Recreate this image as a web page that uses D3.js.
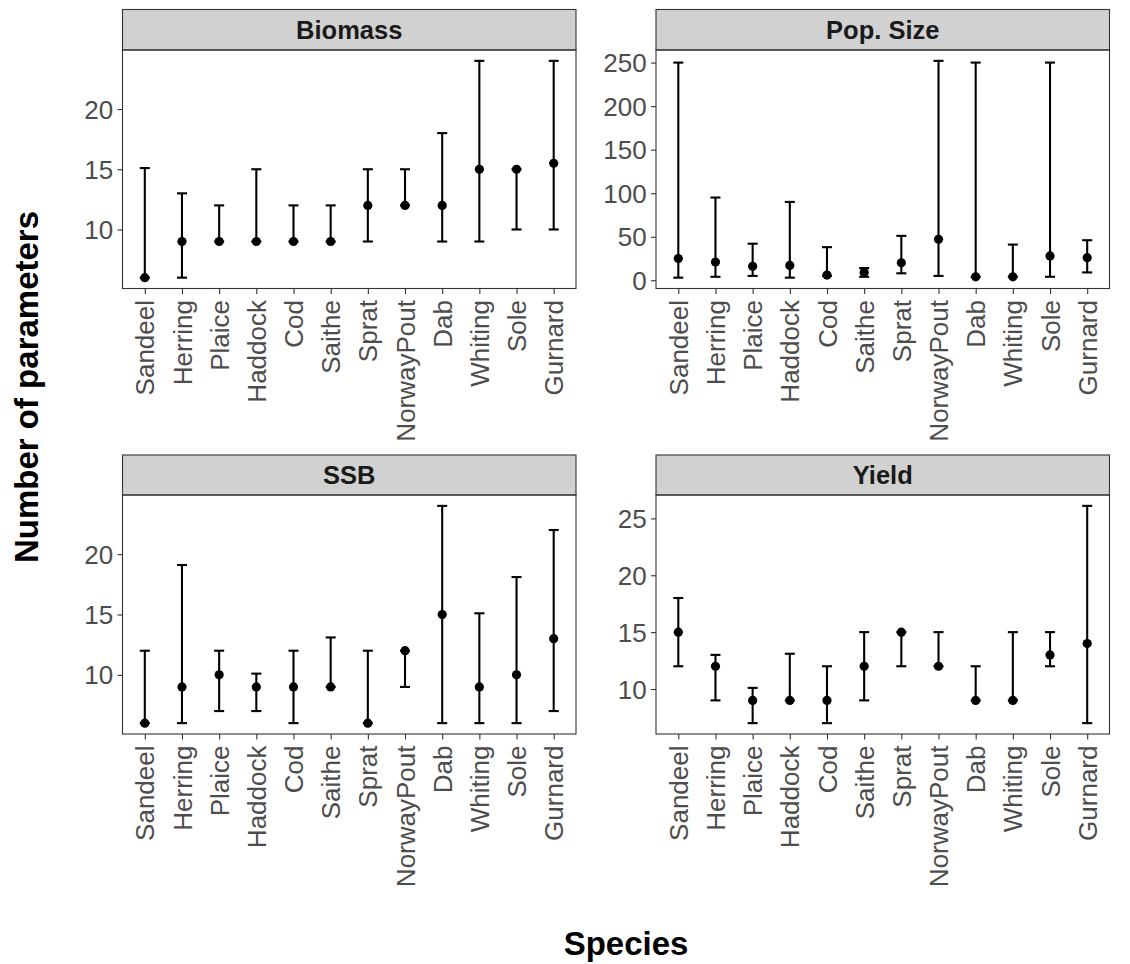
<!DOCTYPE html>
<html>
<head>
<meta charset="utf-8">
<script src="https://cdn.jsdelivr.net/npm/d3@7"></script>
<style>
  html, body { margin: 0; padding: 0; background: #ffffff; }
  svg { display: block; }
  text { font-family: "Liberation Sans", Arial, Helvetica, sans-serif; }
</style>
</head>
<body>
<svg id="chart" width="1130" height="964"></svg>
<script>
// Species along the x axis (same order in every facet)
const species = ["Sandeel", "Herring", "Plaice", "Haddock", "Cod", "Saithe",
                 "Sprat", "NorwayPout", "Dab", "Whiting", "Sole", "Gurnard"];

// Facet titles
const facetNames = ["Biomass", "Pop. Size", "SSB", "Yield"];

// Biomass: median, lower and upper number of parameters
const biomassMid  = [6, 9, 9, 9, 9, 9, 12, 12, 12, 15, 15, 15.5];
const biomassLow  = [6, 6, 9, 9, 9, 9, 9, 12, 9, 9, 10, 10];
const biomassHigh = [15.1, 13, 12, 15, 12, 12, 15, 15, 18, 24, 15, 24];

// Population size
const popMid  = [25, 21, 16, 17, 6, 9, 20, 47, 4, 4, 28, 26];
const popLow  = [3, 4, 5, 3, 5, 4, 8, 5, 4, 4, 4, 9];
const popHigh = [250, 95, 42, 90, 38, 14, 51, 252, 250, 41, 250, 46];

// Spawning stock biomass
const ssbMid  = [6, 9, 10, 9, 9, 9, 6, 12, 15, 9, 10, 13];
const ssbLow  = [6, 6, 7, 7, 6, 9, 6, 9, 6, 6, 6, 7];
const ssbHigh = [12, 19.1, 12, 10.1, 12, 13.1, 12, 12, 24, 15.1, 18.1, 22];

// Yield
const yieldMid  = [15, 12, 9, 9, 9, 12, 15, 12, 9, 9, 13, 14];
const yieldLow  = [12, 9, 7, 9, 7, 9, 12, 12, 9, 9, 12, 7];
const yieldHigh = [18, 13, 10.1, 13.1, 12, 15, 15, 15, 12, 15, 15, 26.1];

// Y tick labels per facet
const biomassTicks = [10, 15, 20];
const popTicks     = [0, 50, 100, 150, 200, 250];
const ssbTicks     = [10, 15, 20];
const yieldTicks   = [10, 15, 20, 25];

const facetData = [
  { mid: biomassMid, low: biomassLow, high: biomassHigh, ticks: biomassTicks },
  { mid: popMid,     low: popLow,     high: popHigh,     ticks: popTicks },
  { mid: ssbMid,     low: ssbLow,     high: ssbHigh,     ticks: ssbTicks },
  { mid: yieldMid,   low: yieldLow,   high: yieldHigh,   ticks: yieldTicks }
];

// Facet boxes: two columns, two rows
const cols = [[122.5, 576], [656, 1109.5]];
const rows = [
  { stripTop: 9.5, top: 50, bottom: 288.5 },
  { stripTop: 455, top: 495, bottom: 734 }
];

const svg = d3.select("#chart");
const textGrey = "#4d4d4d";
const lineGrey = "#333333";
const tickFont = 26;
const stripFont = 25.5;

facetNames.forEach((name, i) => {
  const col = cols[i % 2];
  const row = rows[Math.floor(i / 2)];
  const fd = facetData[i];

  const rows12 = species.map((s, j) => ({ s, mid: fd.mid[j], low: fd.low[j], high: fd.high[j] }));

  const x = d3.scalePoint().domain(species).range(col).padding(0.6);

  // continuous scale with 5% expansion on each side
  const lo = d3.min(rows12, d => Math.min(d.low, d.mid));
  const hi = d3.max(rows12, d => Math.max(d.high, d.mid));
  const pad = (hi - lo) * 0.05;
  const y = d3.scaleLinear().domain([lo - pad, hi + pad]).range([row.bottom, row.top]);

  const g = svg.append("g");

  // panel background
  g.append("rect")
    .attr("x", col[0]).attr("y", row.top)
    .attr("width", col[1] - col[0]).attr("height", row.bottom - row.top)
    .attr("fill", "#ffffff");

  // strip
  g.append("rect")
    .attr("x", col[0]).attr("y", row.stripTop)
    .attr("width", col[1] - col[0]).attr("height", row.top - row.stripTop)
    .attr("fill", "#d1d1d1").attr("stroke", lineGrey).attr("stroke-width", 1.1);
  g.append("text")
    .attr("x", (col[0] + col[1]) / 2)
    .attr("y", (row.stripTop + row.top) / 2 + 9.3)
    .attr("text-anchor", "middle")
    .attr("font-size", stripFont).attr("font-weight", "bold")
    .attr("fill", "#1a1a1a")
    .text(name);

  // x axis
  const xAxis = g.append("g")
    .attr("transform", `translate(0,${row.bottom})`)
    .call(d3.axisBottom(x).tickSize(5.5).tickPadding(0));
  xAxis.select(".domain").remove();
  xAxis.selectAll(".tick line").attr("stroke", lineGrey).attr("stroke-width", 1.1);
  xAxis.selectAll(".tick text")
    .attr("font-size", tickFont)
    .attr("font-family", "\"Liberation Sans\", Arial, sans-serif")
    .attr("fill", textGrey)
    .attr("text-anchor", "end")
    .attr("transform", "translate(0,11.5) rotate(-90)")
    .attr("x", 0).attr("y", 0).attr("dy", "0.35em");

  // y axis
  const yAxis = g.append("g")
    .attr("transform", `translate(${col[0]},0)`)
    .call(d3.axisLeft(y).tickValues(fd.ticks).tickSize(5).tickPadding(4.3).tickFormat(d3.format("d")));
  yAxis.select(".domain").remove();
  yAxis.selectAll(".tick line").attr("stroke", lineGrey).attr("stroke-width", 1.1);
  yAxis.selectAll(".tick text")
    .attr("font-size", tickFont)
    .attr("font-family", "\"Liberation Sans\", Arial, sans-serif")
    .attr("fill", textGrey)
    .attr("dy", "0.35em");

  // error bars
  const capHalf = x.step() * 0.135;
  const bars = g.append("g").attr("stroke", "#000").attr("stroke-width", 2.1).attr("fill", "none");
  rows12.forEach(d => {
    const cx = x(d.s);
    bars.append("line").attr("x1", cx).attr("x2", cx).attr("y1", y(d.low)).attr("y2", y(d.high));
    bars.append("line").attr("x1", cx - capHalf).attr("x2", cx + capHalf).attr("y1", y(d.low)).attr("y2", y(d.low));
    bars.append("line").attr("x1", cx - capHalf).attr("x2", cx + capHalf).attr("y1", y(d.high)).attr("y2", y(d.high));
  });

  // median points
  g.append("g").selectAll("circle").data(rows12).join("circle")
    .attr("cx", d => x(d.s)).attr("cy", d => y(d.mid))
    .attr("r", 4.6).attr("fill", "#000");

  // panel border
  g.append("rect")
    .attr("x", col[0]).attr("y", row.top)
    .attr("width", col[1] - col[0]).attr("height", row.bottom - row.top)
    .attr("fill", "none").attr("stroke", lineGrey).attr("stroke-width", 1.1);
});

// axis titles
svg.append("text")
  .attr("x", 626).attr("y", 955)
  .attr("text-anchor", "middle")
  .attr("font-size", 33).attr("font-weight", "bold").attr("fill", "#000")
  .text("Species");

svg.append("text")
  .attr("transform", "translate(38,387) rotate(-90)")
  .attr("text-anchor", "middle")
  .attr("font-size", 33).attr("font-weight", "bold").attr("fill", "#000")
  .text("Number of parameters");
</script>
</body>
</html>
